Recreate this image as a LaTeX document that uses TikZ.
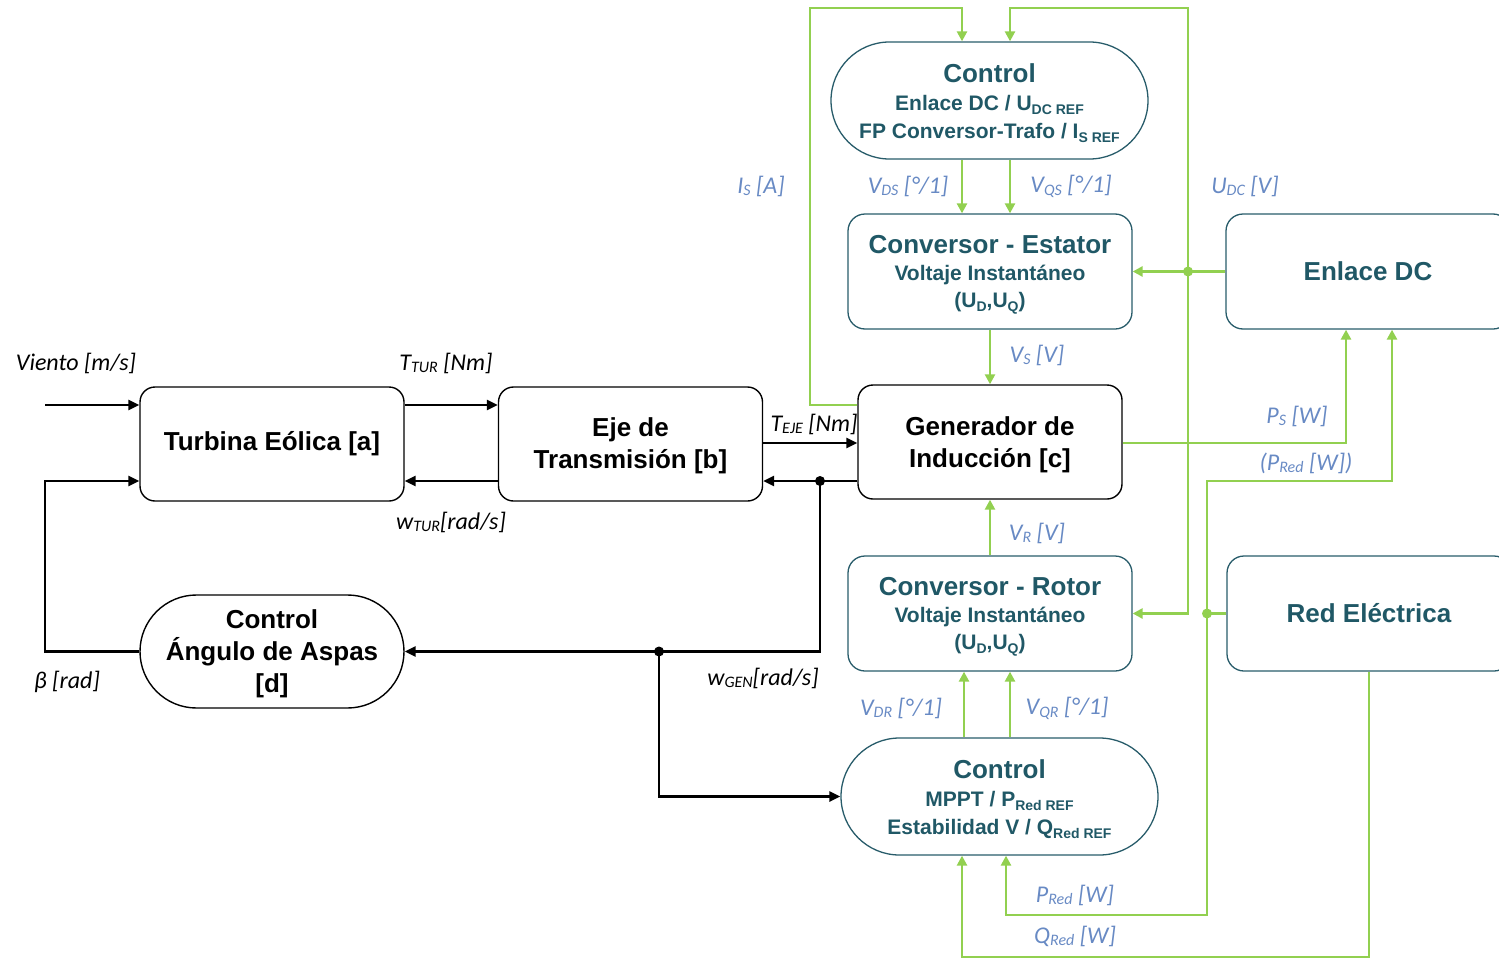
\documentclass[tikz,border=0pt]{standalone}
\usepackage{fontspec}
\setmainfont{Liberation Sans}
\newfontfamily\lblfont{Carlito}
\usetikzlibrary{arrows.meta,shapes.misc}

\definecolor{tealtxt}{RGB}{32,88,102}
\definecolor{tealline}{RGB}{40,92,106}
\definecolor{sig}{RGB}{146,208,80}
\definecolor{lblblue}{RGB}{104,138,196}

% subscripts inside blocks and inside signal labels
\newcommand{\bsub}[1]{\raisebox{-0.35ex}{\fontsize{14}{14}\selectfont #1}}
\newcommand{\lsub}[1]{\raisebox{-0.25ex}{\fontsize{16}{16}\selectfont #1}}
% invisible strut that pushes the first line of a block down a little
\newcommand{\topgap}[1]{\rule{0pt}{#1}}

\tikzset{
  blockbk/.style={draw=black, line width=1.4pt, rounded corners=15pt,
    minimum width=264pt, minimum height=114pt, inner sep=0pt, align=center,
    font=\bfseries\fontsize{26}{32}\selectfont},
  ctrlbk/.style={rounded rectangle, draw=black, line width=1.4pt,
    minimum width=264pt, minimum height=113pt, inner sep=0pt, align=center,
    font=\bfseries\fontsize{26}{32}\selectfont},
  blockteal/.style={draw=tealline, line width=1.3pt, rounded corners=17pt,
    minimum width=284pt, minimum height=115pt, inner sep=0pt, align=center,
    text=tealtxt, font=\bfseries\fontsize{21}{27}\selectfont},
  ctrlteal/.style={rounded rectangle, draw=tealline, line width=1.3pt,
    minimum width=317pt, minimum height=117pt, inner sep=0pt, align=center,
    text=tealtxt, font=\bfseries\fontsize{21}{28}\selectfont},
  blkarrow/.style={draw=black, line width=2.8pt, -{Triangle[length=11pt,width=10pt]}},
  grnline/.style={draw=sig, line width=2.8pt},
  grnarrow/.style={grnline, -{Triangle[length=10pt,width=10pt]}},
  lbl/.style={inner sep=0pt, font=\lblfont\itshape\fontsize{24}{28}\selectfont},
  lblb/.style={lbl, text=lblblue},
}

\begin{document}
\begin{tikzpicture}[x=1pt,y=-1pt]
\useasboundingbox (0,0) rectangle (1499,958);
\clip (0,0) rectangle (1499,958);

% ---------------- blocks ----------------
\node[blockbk] (turb) at (272,444) {Turbina Eólica [a]};
\node[blockbk] (eje) at (630.5,444) {\topgap{23pt}Eje de\\Transmisión [b]};
\node[blockbk] (gen) at (990,442) {\topgap{24pt}Generador de\\Inducción [c]};
\node[ctrlbk] (ang) at (272,651.5) {\topgap{23pt}Control\\Ángulo de Aspas\\{[d]}};

\node[ctrlteal] (ctop) at (989.5,100.5)
  {{\fontsize{26}{28}\selectfont\topgap{24pt}Control}\\Enlace DC / U\bsub{DC REF}\\FP Conversor-Trafo / I\bsub{S REF}};
\node[blockteal] (cest) at (990,271.5)
  {{\fontsize{26}{28}\selectfont\topgap{25pt}Conversor - Estator}\\Voltaje Instantáneo\\(U\bsub{D},U\bsub{Q})};
\node[blockteal] (dc) at (1368,271.5) {\fontsize{26}{28}\selectfont Enlace DC};
\node[blockteal] (crot) at (990,613.5)
  {{\fontsize{26}{28}\selectfont\topgap{25pt}Conversor - Rotor}\\Voltaje Instantáneo\\(U\bsub{D},U\bsub{Q})};
\node[blockteal] (red) at (1369,613.5) {\fontsize{26}{28}\selectfont Red Eléctrica};
\node[ctrlteal] (cbot) at (999.5,796.5)
  {{\fontsize{26}{28}\selectfont\topgap{24pt}Control}\\MPPT / P\bsub{Red REF}\\Estabilidad V / Q\bsub{Red REF}};

% ---------------- helper coordinates ----------------
\coordinate (rowA) at (0,405);
\coordinate (rowB) at (0,481);
\coordinate (rowC) at (0,443);
\coordinate (rowP) at (0,915);
\coordinate (rowQ) at (0,957);
\coordinate (xIs) at (962,0);
\coordinate (xQs) at (1010,0);
\coordinate (xDr) at (964,0);
\coordinate (xQr) at (1010,0);
\coordinate (xPb) at (1006,0);
\coordinate (xQb) at (962,0);
\coordinate (xPs) at (1346,0);
\coordinate (xPr) at (1392,0);
\coordinate (windin) at (45,405);
\coordinate (betacorner) at (45,481);
\coordinate (wgen) at (820,481);
\coordinate (wsplit) at (659,651.5);
\coordinate (isTop) at (810,8);
\coordinate (busDot) at (1188,271.5);
\coordinate (busTop) at (1188,8);
\coordinate (redDot) at (1207,613.5);

% ---------------- mechanical signals ----------------
\draw[blkarrow] (windin) -- (windin -| turb.west);
\draw[blkarrow] (turb.east |- rowA) -- (eje.west |- rowA);
\draw[blkarrow] (eje.west |- rowB) -- (turb.east |- rowB);
\draw[blkarrow] (eje.east |- rowC) -- (gen.west |- rowC);
\draw[blkarrow] (gen.west |- rowB) -- (eje.east |- rowB);
\draw[blkarrow] (wgen) |- (ang.east);
\draw[blkarrow] (wsplit) |- (cbot.west);
\draw[blkarrow] (ang.west) -| (betacorner) -- (turb.west |- rowB);
\fill (wgen) circle (5pt);
\fill (wsplit) circle (5pt);

% ---------------- electrical signals ----------------
\draw[grnarrow] (gen.west |- rowA) -| (isTop) -| (ctop.north -| xIs);
\draw[grnarrow] (busDot) -- (busTop) -| (ctop.north -| xQs);
\draw[grnline] (dc.west) -- (busDot);
\draw[grnarrow] (busDot) -- (cest.east);
\draw[grnarrow] (busDot) |- (crot.east);
\draw[grnarrow] (ctop.south -| xIs) -- (cest.north -| xIs);
\draw[grnarrow] (ctop.south -| xQs) -- (cest.north -| xQs);
\draw[grnarrow] (cest.south) -- (gen.north);
\draw[grnarrow] (crot.north) -- (gen.south);
\draw[grnarrow] (cbot.north -| xDr) -- (crot.south -| xDr);
\draw[grnarrow] (cbot.north -| xQr) -- (crot.south -| xQr);
\draw[grnarrow] (gen.east |- rowC) -| (dc.south -| xPs);
\draw[grnline] (red.west) -- (redDot);
\draw[grnarrow] (redDot) -- (redDot |- rowB) -| (dc.south -| xPr);
\draw[grnarrow] (redDot) -- (redDot |- rowP) -| (cbot.south -| xPb);
\draw[grnarrow] (red.south) -- (red.south |- rowQ) -| (cbot.south -| xQb);
\fill[sig] (busDot) circle (5pt);
\fill[sig] (redDot) circle (5pt);

% ---------------- labels ----------------
\node[lbl] (lwind) at (76,363) {Viento [m/s]};
\node[lbl] (lttur) at (446,363) {T\lsub{TUR} [Nm]};
\node[lbl] (lwtur) at (451,522) {w\lsub{TUR}[rad/s]};
\node[lbl] (lteje) at (814,424) {T\lsub{EJE} [Nm]};
\node[lbl] (lbeta) at (67,682) {β [rad]};
\node[lbl] (lwgen) at (763,678) {w\lsub{GEN}[rad/s]};

\node[lblb] (lis) at (761,186) {I\lsub{S} [A]};
\node[lblb] (lvds) at (908,186) {V\lsub{DS} [°/1]};
\node[lblb] (lvqs) at (1071,186) {V\lsub{QS} [°/1]};
\node[lblb] (ludc) at (1245,186) {U\lsub{DC} [V]};
\node[lblb] (lvs) at (1037,355) {V\lsub{S} [V]};
\node[lblb] (lps) at (1297,416) {P\lsub{S} [W]};
\node[lblb] (lpr1) at (1306,463) {(P\lsub{Red} [W])};
\node[lblb] (lvr) at (1037,533) {V\lsub{R} [V]};
\node[lblb] (lvdr) at (901,708) {V\lsub{DR} [°/1]};
\node[lblb] (lvqr) at (1067,708) {V\lsub{QR} [°/1]};
\node[lblb] (lpr2) at (1075,895) {P\lsub{Red} [W]};
\node[lblb] (lqr) at (1075,936) {Q\lsub{Red} [W]};
\end{tikzpicture}
\end{document}
